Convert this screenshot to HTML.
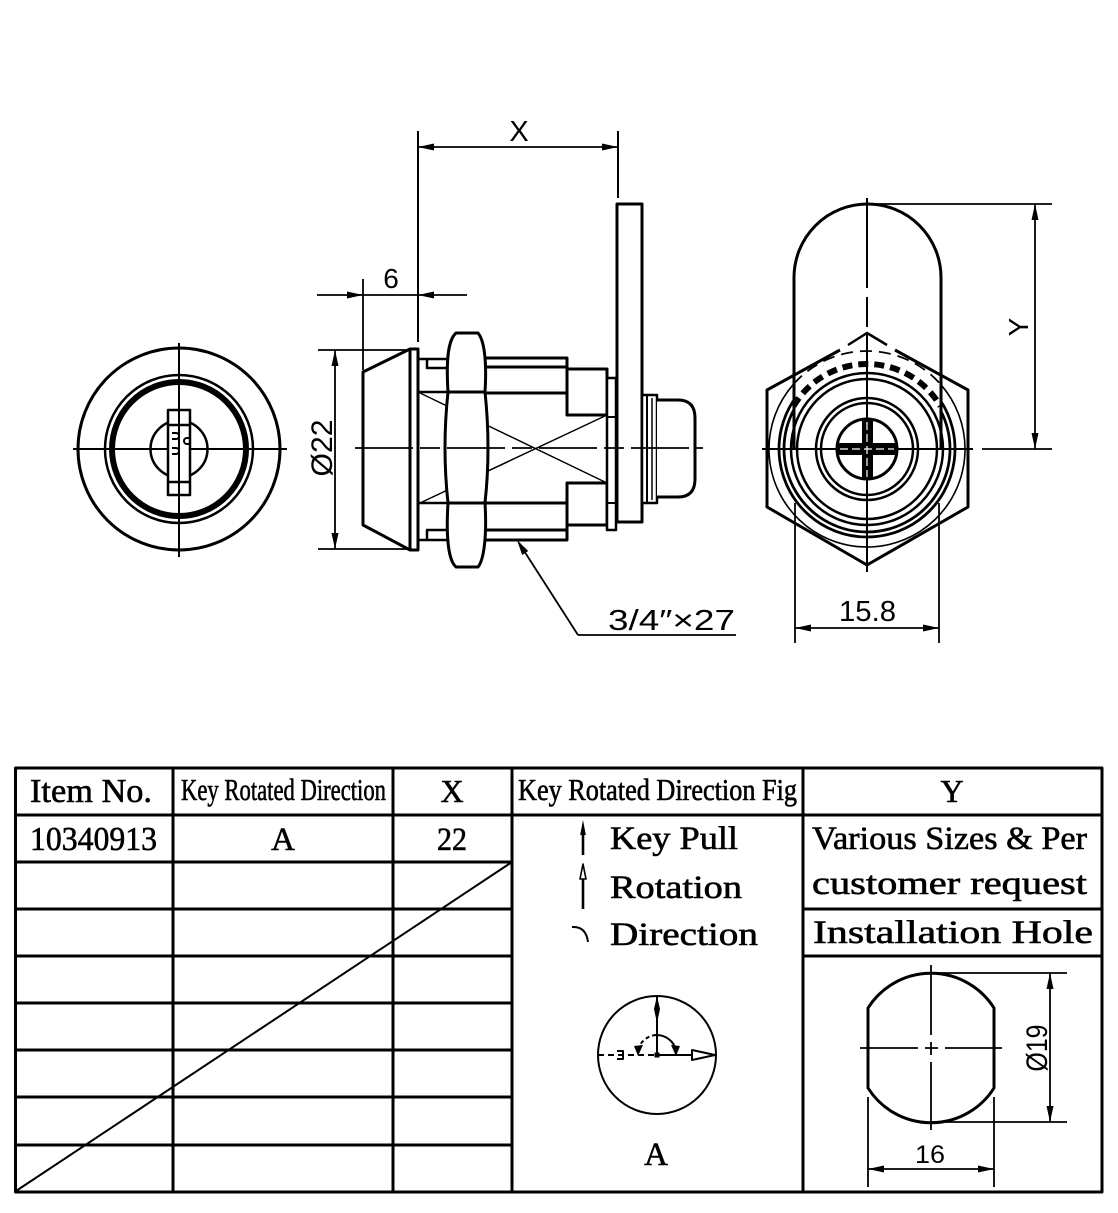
<!DOCTYPE html>
<html><head><meta charset="utf-8"><style>
html,body{margin:0;padding:0;background:#fff;}
svg{display:block;}
</style></head><body>
<svg width="1118" height="1213" viewBox="0 0 1118 1213" xmlns="http://www.w3.org/2000/svg">
<rect width="1118" height="1213" fill="#fff"/>
<g fill="none" stroke="#000" stroke-linecap="butt" stroke-linejoin="round">

<!-- ===== LEFT VIEW ===== -->
<circle cx="179" cy="449" r="101" stroke-width="3"/>
<circle cx="179" cy="449" r="74" stroke-width="2.5"/>
<circle cx="179" cy="449" r="67" stroke-width="6"/>
<circle cx="179" cy="449" r="28.5" stroke-width="2.5"/>
<line x1="73" y1="449" x2="287" y2="449" stroke-width="2"/>
<rect x="168" y="410" width="22" height="85" fill="#fff" stroke-width="2.5"/>
<line x1="168" y1="425" x2="190" y2="425" stroke-width="2.5"/>
<line x1="168" y1="482" x2="190" y2="482" stroke-width="2.5"/>
<line x1="179" y1="343" x2="179" y2="557" stroke-width="2"/>
<path d="M172,433 h4 a3,3 0 0 1 0,6 h-4" stroke-width="2"/>
<path d="M190,438 h-3 a3,3 0 0 0 0,6 h3" stroke-width="2"/>
<path d="M172,448 h4 a3,3 0 0 1 0,6 h-4" stroke-width="2"/>

<!-- ===== SIDE VIEW ===== -->
<line x1="418" y1="131" x2="418" y2="342" stroke-width="2"/>
<line x1="618" y1="131" x2="618" y2="198" stroke-width="2"/>
<line x1="418" y1="147" x2="618" y2="147" stroke-width="1.8"/>
<line x1="317" y1="295" x2="467" y2="295" stroke-width="1.8"/>
<line x1="363" y1="279" x2="363" y2="370" stroke-width="1.8"/>
<line x1="318" y1="350" x2="410" y2="350" stroke-width="1.8"/>
<line x1="318" y1="549" x2="410" y2="549" stroke-width="1.8"/>
<line x1="335" y1="350" x2="335" y2="549" stroke-width="1.8"/>

<line x1="420" y1="393" x2="607" y2="483" stroke-width="1.5"/>
<line x1="420" y1="503" x2="607" y2="415" stroke-width="1.5"/>

<path d="M363,372 L410,349 L418,349 L418,550 L410,550 L363,525 Z" fill="#fff" stroke-width="3"/>
<line x1="410" y1="349" x2="410" y2="550" stroke-width="3"/>
<path d="M418,359 H448 M427,359 V368 H448 M418,392 H448 M418,503 H448 M418,540 H448 M427,540 V530 H448" stroke-width="2.5"/>

<path d="M485,358 H567 V393 M485,367 H567 M485,393 H567" stroke-width="3"/>
<path d="M485,540 H567 V503 M485,530 H567 M485,503 H567" stroke-width="3"/>
<rect x="567" y="369" width="40" height="46" stroke-width="3"/>
<rect x="567" y="483" width="40" height="42" stroke-width="3"/>
<rect x="607" y="378" width="9" height="152" fill="#fff" stroke-width="2.5"/>
<line x1="607" y1="417" x2="616" y2="417" stroke-width="2"/>
<line x1="607" y1="503" x2="616" y2="503" stroke-width="2"/>

<path d="M448,392 C446,360 448,340 456,333 L478,333 C484,340 487,360 485,392 Z" fill="#fff" stroke-width="3"/>
<path d="M448,392 Q442,448 448,503 L485,503 Q491,448 485,392 Z" fill="#fff" stroke-width="3"/>
<path d="M448,503 C446,535 448,560 456,567 L478,567 C484,560 487,535 485,503 Z" fill="#fff" stroke-width="3"/>

<rect x="617" y="204" width="25" height="318" fill="#fff" stroke-width="3"/>
<rect x="642" y="395" width="15" height="108" fill="#fff" stroke-width="2.5"/>
<line x1="647" y1="395" x2="647" y2="503" stroke-width="2"/>
<line x1="652" y1="398" x2="652" y2="500" stroke-width="1.5"/>
<path d="M657,400 H678 Q695,400 695,418 V479 Q695,497 678,497 H657" fill="#fff" stroke-width="3"/>

<line x1="355" y1="448" x2="703" y2="448" stroke-width="1.8" stroke-dasharray="58 7 20 7"/>

<line x1="519" y1="543" x2="578" y2="635" stroke-width="1.8"/>
<line x1="578" y1="635" x2="736" y2="635" stroke-width="1.8"/>

<!-- ===== RIGHT VIEW ===== -->
<path d="M794,449 V277.5 A73.5,73.5 0 0 1 941,277.5 V449" stroke-width="3"/>
<path d="M840,350 L767,390 V507 L867,565 L968,507 V390 L895,350" stroke-width="3"/>
<path d="M848,345 L867,333 L887,345" stroke-width="2.5"/>
<path d="M793.5,384.2 A98,98 0 1 0 940.5,384.2" stroke-width="1.6"/>
<path d="M793.5,384.2 A98,98 0 0 1 940.5,384.2" stroke-width="1.8" stroke-dasharray="12 7"/>
<path d="M793.5,400.6 A88,88 0 1 0 940.5,400.6" stroke-width="2.8"/>
<path d="M793.5,410.4 A83,83 0 1 0 940.5,410.4" stroke-width="2.8"/>
<path d="M793.5,406.3 A85,85 0 0 1 940.5,406.3" stroke-width="6" stroke-dasharray="10 6"/>
<circle cx="867" cy="449" r="76" stroke-width="2.5"/>
<circle cx="867" cy="449" r="70" stroke-width="2.5"/>
<circle cx="867" cy="449" r="51" stroke-width="2.5"/>
<circle cx="867" cy="449" r="46" stroke-width="2.5"/>
<circle cx="867" cy="449" r="30" stroke-width="3"/>
<line x1="762" y1="449" x2="973" y2="449" stroke-width="2"/>
<path d="M867,198 V288 M867,297 V327 M867,333 V572" stroke-width="2"/>
<rect x="837" y="443" width="60" height="12" fill="#000" stroke="none"/>
<rect x="862" y="420" width="11" height="59" fill="#000" stroke="none"/>
<line x1="840" y1="449" x2="894" y2="449" stroke="#fff" stroke-width="1.2" stroke-dasharray="8 4"/>
<line x1="867" y1="422" x2="867" y2="477" stroke="#fff" stroke-width="1.2" stroke-dasharray="8 4"/>
<line x1="867" y1="204" x2="1052" y2="204" stroke-width="1.8"/>
<line x1="982" y1="449" x2="1052" y2="449" stroke-width="1.8"/>
<line x1="1035" y1="204" x2="1035" y2="449" stroke-width="1.8"/>
<line x1="795" y1="503" x2="795" y2="643" stroke-width="1.8"/>
<line x1="939" y1="503" x2="939" y2="643" stroke-width="1.8"/>
<line x1="795" y1="628" x2="939" y2="628" stroke-width="1.8"/>

<!-- ===== TABLE ===== -->
<g stroke-width="3" stroke-linecap="square">
<rect x="15.5" y="768" width="1086.5" height="424"/>
<line x1="173" y1="768" x2="173" y2="1192"/>
<line x1="393" y1="768" x2="393" y2="1192"/>
<line x1="512" y1="768" x2="512" y2="1192"/>
<line x1="803" y1="768" x2="803" y2="1192"/>
<line x1="15.5" y1="815" x2="1102" y2="815"/>
<line x1="15.5" y1="862" x2="512" y2="862"/>
<line x1="15.5" y1="909" x2="512" y2="909"/>
<line x1="15.5" y1="956" x2="512" y2="956"/>
<line x1="15.5" y1="1003" x2="512" y2="1003"/>
<line x1="15.5" y1="1050" x2="512" y2="1050"/>
<line x1="15.5" y1="1097" x2="512" y2="1097"/>
<line x1="15.5" y1="1145" x2="512" y2="1145"/>
<line x1="803" y1="909" x2="1102" y2="909"/>
<line x1="803" y1="956" x2="1102" y2="956"/>
</g>
<line x1="16" y1="1191" x2="512" y2="862" stroke-width="2"/>

<line x1="583" y1="832" x2="583" y2="855" stroke-width="2.6"/>
<line x1="583" y1="876" x2="583" y2="909" stroke-width="2.6"/>
<polygon points="583,864 586,879 580,879" fill="#fff" stroke-width="1.6"/>
<path d="M572,927 Q586,926 588,942" stroke-width="2"/>

<circle cx="657" cy="1055" r="59" stroke-width="2"/>
<line x1="657" y1="996" x2="657" y2="1055" stroke-width="2"/>
<line x1="657" y1="1055" x2="692" y2="1055" stroke-width="2"/>
<polygon points="692,1050 715,1055 692,1060" fill="#fff" stroke-width="2"/>
<line x1="598" y1="1055" x2="655" y2="1055" stroke-width="2" stroke-dasharray="6 4"/>
<path d="M617,1051 H623 V1059 H617" stroke-width="2"/>
<path d="M657,1035 A20,20 0 0 1 676,1050" stroke-width="2"/>
<path d="M638,1050 A20,20 0 0 1 657,1035" stroke-width="2" stroke-dasharray="4 3"/>

<path d="M868,1008 A74.5,74.5 0 0 1 994,1008 V1088 A74.5,74.5 0 0 1 868,1088 Z" stroke-width="3"/>
<path d="M860,1048 H918 M925,1048 H938 M945,1048 H1002" stroke-width="1.8"/>
<path d="M931,965 V1035 M931,1042 V1055 M931,1062 V1130" stroke-width="1.8"/>
<line x1="932" y1="973" x2="1067" y2="973" stroke-width="1.8"/>
<line x1="932" y1="1122" x2="1067" y2="1122" stroke-width="1.8"/>
<line x1="1050" y1="973" x2="1050" y2="1122" stroke-width="1.8"/>
<line x1="868" y1="1097" x2="868" y2="1187" stroke-width="1.8"/>
<line x1="994" y1="1097" x2="994" y2="1187" stroke-width="1.8"/>
<line x1="868" y1="1169" x2="994" y2="1169" stroke-width="1.8"/>
</g>

<g fill="#000" stroke="none">
<polygon points="418,147 434,143.5 434,150.5"/>
<polygon points="618,147 602,143.5 602,150.5"/>
<polygon points="363,295 347,291.5 347,298.5"/>
<polygon points="418,295 434,291.5 434,298.5"/>
<polygon points="335,350 331.5,366 338.5,366"/>
<polygon points="335,549 331.5,533 338.5,533"/>
<polygon points="1035,204 1031.5,220 1038.5,220"/>
<polygon points="1035,449 1031.5,433 1038.5,433"/>
<polygon points="795,628 811,624.5 811,631.5"/>
<polygon points="939,628 923,624.5 923,631.5"/>
<polygon points="1050,973 1046.5,989 1053.5,989"/>
<polygon points="1050,1122 1046.5,1106 1053.5,1106"/>
<polygon points="868,1169 884,1165.5 884,1172.5"/>
<polygon points="994,1169 978,1165.5 978,1172.5"/>
<polygon points="517,540 522.2,555 528.2,551"/>
<polygon points="583,820 585.8,835 580.2,835"/>
<path d="M657,996 L660,1009 L657,1023 L654,1009 Z"/>
<rect x="654.5" y="1052.5" width="5" height="5"/>
<polygon points="676,1056 671,1045 680,1046"/>
<polygon points="638,1056 634,1046 643,1045"/>
</g>

<g font-family="'Liberation Sans', 'DejaVu Sans', sans-serif" fill="#000" stroke="none">
<text x="519" y="141" font-size="29" text-anchor="middle">X</text>
<text x="391" y="288" font-size="28" text-anchor="middle">6</text>
<text transform="translate(332,448) rotate(-90)" font-size="30" text-anchor="middle" textLength="57" lengthAdjust="spacingAndGlyphs">Ø22</text>
<text x="608" y="630" font-size="29" textLength="127" lengthAdjust="spacingAndGlyphs">3/4″×27</text>
<text transform="translate(1028,327) rotate(-90)" font-size="28" text-anchor="middle">Y</text>
<text x="839" y="621" font-size="29" textLength="57" lengthAdjust="spacingAndGlyphs">15.8</text>
<text transform="translate(1047,1048) rotate(-90)" font-size="30" text-anchor="middle" textLength="47" lengthAdjust="spacingAndGlyphs">Ø19</text>
<text x="915" y="1163" font-size="25" textLength="30" lengthAdjust="spacingAndGlyphs">16</text>
</g>

<g font-family="'Liberation Serif', 'Noto Serif CJK SC', serif" fill="#000" stroke="#000" stroke-width="0.6">
<text x="30" y="802" font-size="34" textLength="122" lengthAdjust="spacingAndGlyphs">Item No.</text>
<text x="181" y="800" font-size="31" textLength="205" lengthAdjust="spacingAndGlyphs">Key Rotated Direction</text>
<text x="452" y="802" font-size="32" text-anchor="middle">X</text>
<text x="518" y="800" font-size="31" textLength="279" lengthAdjust="spacingAndGlyphs">Key Rotated Direction Fig</text>
<text x="952" y="802" font-size="32" text-anchor="middle">Y</text>

<text x="30" y="850" font-size="34" textLength="127" lengthAdjust="spacingAndGlyphs">10340913</text>
<text x="283" y="850" font-size="33" text-anchor="middle">A</text>
<text x="437" y="850" font-size="33" textLength="30" lengthAdjust="spacingAndGlyphs">22</text>

<text x="610" y="849" font-size="33" textLength="128" lengthAdjust="spacingAndGlyphs">Key Pull</text>
<text x="610" y="898" font-size="33" textLength="132" lengthAdjust="spacingAndGlyphs">Rotation</text>
<text x="610" y="945" font-size="33" textLength="148" lengthAdjust="spacingAndGlyphs">Direction</text>

<text x="812" y="849" font-size="33" textLength="275" lengthAdjust="spacingAndGlyphs">Various Sizes &amp; Per</text>
<text x="812" y="894" font-size="33" textLength="275" lengthAdjust="spacingAndGlyphs">customer request</text>
<text x="813" y="943" font-size="33" textLength="280" lengthAdjust="spacingAndGlyphs">Installation Hole</text>

<text x="656" y="1165" font-size="33" text-anchor="middle">A</text>
</g>
</svg>
</body></html>
